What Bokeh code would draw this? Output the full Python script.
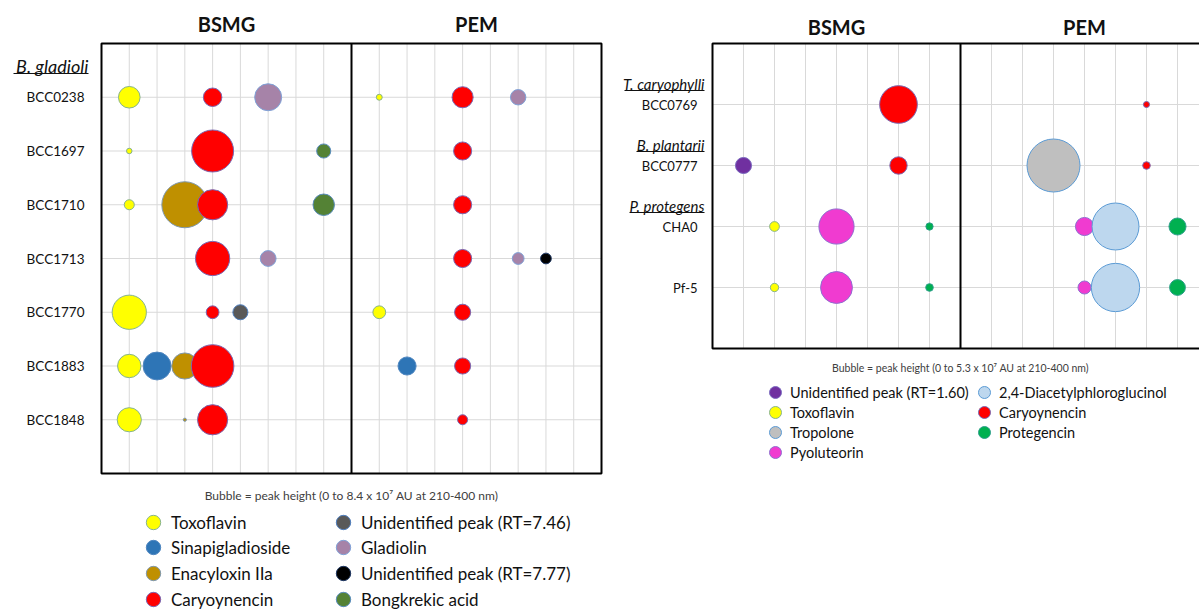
import math
from bokeh.plotting import figure
from bokeh.layouts import row
from bokeh.models import ColumnDataSource, Label, Legend, LegendItem
from bokeh.core.properties import value
from bokeh.embed import file_html
from bokeh.resources import INLINE

FONT = "Lato"

# ---------------- Left chart: B. gladioli ----------------
gladioli_species = "B. gladioli"
gladioli_strains = ["BCC0238", "BCC1697", "BCC1710", "BCC1713", "BCC1770", "BCC1883", "BCC1848"]
gladioli_compounds = ["Toxoflavin", "Sinapigladioside", "Enacyloxin IIa", "Caryoynencin",
                      "Unidentified peak (RT=7.46)", "Gladiolin",
                      "Unidentified peak (RT=7.77)", "Bongkrekic acid"]
gladioli_fill = ["#FFFF00", "#2E75B6", "#BF9000", "#FF0000", "#595959", "#A683A8", "#000000", "#548235"]
gladioli_line = ["#86B38F", "#4F86C0", "#7F98AE", "#7A68B2", "#4F7FBF", "#7FA2D8", "#1F3864", "#5A8DBE"]
gladioli_max = 8.4  # x 10^7 AU

# peak heights (x 10^7 AU), in gladioli_compounds order
bsmg_bcc0238 = [1.86, 0, 0, 1.36, 0, 2.89, 0, 0]
bsmg_bcc1697 = [0.12, 0, 0, 6.99, 0, 0, 0, 0.79]
bsmg_bcc1710 = [0.40, 0, 8.40, 3.62, 0, 0, 0, 1.83]
bsmg_bcc1713 = [0, 0, 0, 4.65, 0, 0.99, 0, 0]
bsmg_bcc1770 = [4.65, 0, 0, 0.65, 0.90, 0, 0, 0]
bsmg_bcc1883 = [2.18, 3.09, 2.72, 7.20, 0, 0, 0, 0]
bsmg_bcc1848 = [2.32, 0, 0.04, 3.62, 0, 0, 0, 0]
pem_bcc0238 = [0.14, 0, 0, 1.77, 0, 0.94, 0, 0]
pem_bcc1697 = [0, 0, 0, 1.30, 0, 0, 0, 0]
pem_bcc1710 = [0, 0, 0, 1.30, 0, 0, 0, 0]
pem_bcc1713 = [0, 0, 0, 1.30, 0, 0.55, 0.46, 0]
pem_bcc1770 = [0.65, 0, 0, 1.03, 0, 0, 0, 0]
pem_bcc1883 = [0, 1.30, 0, 1.03, 0, 0, 0, 0]
pem_bcc1848 = [0, 0, 0, 0.40, 0, 0, 0, 0]

gladioli_bsmg = [bsmg_bcc0238, bsmg_bcc1697, bsmg_bcc1710, bsmg_bcc1713, bsmg_bcc1770, bsmg_bcc1883, bsmg_bcc1848]
gladioli_pem = [pem_bcc0238, pem_bcc1697, pem_bcc1710, pem_bcc1713, pem_bcc1770, pem_bcc1883, pem_bcc1848]

# ---------------- Right chart: other species ----------------
other_strains = ["BCC0769", "BCC0777", "CHA0", "Pf-5"]
other_species = ["T. caryophylli", "B. plantarii", "P. protegens"]
other_species_first_strain = ["BCC0769", "BCC0777", "CHA0"]
other_compounds = ["Unidentified peak (RT=1.60)", "Toxoflavin", "Tropolone", "Pyoluteorin",
                   "2,4-Diacetylphloroglucinol", "Caryoynencin", "Protegencin"]
other_fill = ["#7030A0", "#FFFF00", "#BFBFBF", "#F03BD0", "#BDD7EE", "#FF0000", "#00B050"]
other_line = ["#7C6CC0", "#86B38F", "#5B9BD5", "#8F6FD0", "#5B9BD5", "#7A68B2", "#2FA08C"]
other_max = 5.3  # x 10^7 AU

bsmg_bcc0769 = [0, 0, 0, 0, 0, 2.68, 0]
bsmg_bcc0777 = [0.49, 0, 0, 0, 0, 0.57, 0]
bsmg_cha0 = [0, 0.18, 0, 2.34, 0, 0, 0.10]
bsmg_pf5 = [0, 0.13, 0, 1.92, 0, 0, 0.11]
pem_bcc0769 = [0, 0, 0, 0, 0, 0.07, 0]
pem_bcc0777 = [0, 0, 5.30, 0, 0, 0.11, 0]
pem_cha0 = [0, 0, 0, 0.62, 4.16, 0, 0.55]
pem_pf5 = [0, 0, 0, 0.32, 4.40, 0, 0.47]

other_bsmg = [bsmg_bcc0769, bsmg_bcc0777, bsmg_cha0, bsmg_pf5]
other_pem = [pem_bcc0769, pem_bcc0777, pem_cha0, pem_pf5]

media = ["BSMG", "PEM"]
GRID = "#D9D9D9"
INK = "#111111"


def make_chart(fig_w, fig_h, box_left, box_top, unit_x, unit_y, strains, compounds):
    n = len(compounds)
    ny = len(strains)
    x0 = -box_left / unit_x
    x1 = (fig_w - box_left) / unit_x
    y1 = (ny + 1) + box_top / unit_y
    y0 = y1 - fig_h / unit_y
    p = figure(width=fig_w, height=fig_h, x_range=(x0, x1), y_range=(y0, y1),
               x_axis_location=None, y_axis_location=None, min_border=0,
               toolbar_location=None, output_backend="svg")
    p.min_border_left = p.min_border_right = p.min_border_top = p.min_border_bottom = 0
    p.grid.visible = False
    p.outline_line_color = None
    xe = 2 * (n + 1)
    xt = [x for x in range(1, xe) if x != n + 1]
    yt = list(range(1, ny + 1))
    p.segment(x0=xt, y0=0, x1=xt, y1=ny + 1, line_color=GRID, line_width=1)
    p.segment(x0=0, y0=yt, x1=xe, y1=yt, line_color=GRID, line_width=1)
    p.quad(left=0, right=xe, bottom=0, top=ny + 1, fill_color=None, line_color="black", line_width=2)
    p.segment(x0=n + 1, y0=0, x1=n + 1, y1=ny + 1, line_color="black", line_width=2)
    return p


def add_bubbles(p, strains, compounds, fills, lines, bsmg, pem, vmax, max_d):
    n = len(compounds)
    rends = []
    for j, comp in enumerate(compounds):
        xs, ys, ss = [], [], []
        for i in range(len(strains)):
            for k, medium in enumerate((bsmg, pem)):
                v = medium[i][j]
                if v > 0:
                    xs.append(j + 1 + k * (n + 1))
                    ys.append(len(strains) - i)
                    ss.append(max_d * math.sqrt(v / vmax))
        src = ColumnDataSource(dict(x=xs, y=ys, size=ss))
        r = p.scatter("x", "y", size="size", source=src, fill_color=fills[j],
                      line_color=lines[j], line_width=1)
        rends.append(r)
    return rends


def add_legend_entries(p, fig_h, labels, rends, col_x, first_row_y, pitch, rows_per_col,
                       glyph, font_size):
    # one single-item legend per entry so that row pitch can be smaller than the glyph box
    for idx, (lab, r) in enumerate(zip(labels, rends)):
        c, rr = divmod(idx, rows_per_col)
        cy = first_row_y + pitch * rr
        p.add_layout(Legend(items=[LegendItem(label=lab, renderers=[r])],
                            location=(col_x[c], round(fig_h - cy - glyph / 2)), orientation="vertical",
                            glyph_width=glyph, glyph_height=glyph, label_height=glyph,
                            label_standoff=0, padding=0, margin=0, spacing=0,
                            border_line_color=None, background_fill_alpha=0,
                            label_text_font=FONT, label_text_font_size=font_size,
                            label_text_color=INK))


# ---------- left figure ----------
FIG_H = 611
nL, nyL = len(gladioli_compounds), len(gladioli_strains)
UXL, UYL = 500 / 18, 430 / 8
p1 = make_chart(603, FIG_H, 101, 43, UXL, UYL, gladioli_strains, gladioli_compounds)
rL = add_bubbles(p1, gladioli_strains, gladioli_compounds, gladioli_fill, gladioli_line,
                 gladioli_bsmg, gladioli_pem, gladioli_max, 46)

p1.text(x=-17 / UXL, y=[nyL - i for i in range(nyL)], text=gladioli_strains,
        text_align="right", text_baseline="middle", text_font=value(FONT),
        text_font_size="13.5px", text_color=INK)
for k, m in enumerate(media):
    p1.add_layout(Label(x=(nL + 1) * k + (nL + 1) / 2, y=nyL + 1 + 20 / UYL, text=m,
                        text_align="center", text_baseline="middle", text_font=FONT,
                        text_font_size="20px", text_font_style="bold", text_color=INK))
sp_y = nyL + 1 - 22 / UYL
p1.add_layout(Label(x=-13 / UXL, y=sp_y, text=gladioli_species,
                    text_align="right", text_baseline="middle", text_font=FONT,
                    text_font_size="18px", text_font_style="italic", text_color=INK))
p1.segment(x0=-88 / UXL, y0=sp_y - 8 / UYL, x1=-13 / UXL, y1=sp_y - 8 / UYL,
           line_color=INK, line_width=1)
p1.add_layout(Label(x=nL + 1, y=-22 / UYL,
                    text="Bubble = peak height (0 to 8.4 x 10\u2077 AU at 210-400 nm)",
                    text_align="center", text_baseline="middle", text_font=FONT,
                    text_font_size="12px", text_color="#404040"))
add_legend_entries(p1, FIG_H, gladioli_compounds, rL, (135, 325), 522, 25.5, 4, 36, "17px")

# ---------- right figure ----------
nR, nyR = len(other_compounds), len(other_strains)
UXR, UYR = 31.0, 305 / 5
p2 = make_chart(596, FIG_H, 109, 43, UXR, UYR, other_strains, other_compounds)
rR = add_bubbles(p2, other_strains, other_compounds, other_fill, other_line,
                 other_bsmg, other_pem, other_max, 53)

p2.text(x=-15 / UXR, y=[nyR - i for i in range(nyR)], text=other_strains,
        text_align="right", text_baseline="middle", text_font=value(FONT),
        text_font_size="13px", text_color=INK)
for k, m in enumerate(media):
    p2.add_layout(Label(x=(nR + 1) * k + (nR + 1) / 2, y=nyR + 1 + 17 / UYR, text=m,
                        text_align="center", text_baseline="middle", text_font=FONT,
                        text_font_size="20px", text_font_style="bold", text_color=INK))

under_w = [80, 68, 75]
for sp, first, w in zip(other_species, other_species_first_strain, under_w):
    yrow = nyR - other_strains.index(first) + 21 / UYR
    p2.add_layout(Label(x=-8 / UXR, y=yrow, text=sp,
                        text_align="right", text_baseline="middle", text_font=FONT,
                        text_font_size="15px", text_font_style="italic", text_color=INK))
    p2.segment(x0=-(8 + w) / UXR, y0=yrow - 7 / UYR, x1=-8 / UXR, y1=yrow - 7 / UYR,
               line_color=INK, line_width=1)

p2.add_layout(Label(x=nR + 1, y=-19 / UYR,
                    text="Bubble = peak height (0 to 5.3 x 10\u2077 AU at 210-400 nm)",
                    text_align="center", text_baseline="middle", text_font=FONT,
                    text_font_size="10.5px", text_color="#404040"))
add_legend_entries(p2, FIG_H, other_compounds, rR, (157, 366), 392, 20, 4, 30, "14.5px")

layout = row(p1, p2)
open("out.html", "w").write(file_html(layout, INLINE))
